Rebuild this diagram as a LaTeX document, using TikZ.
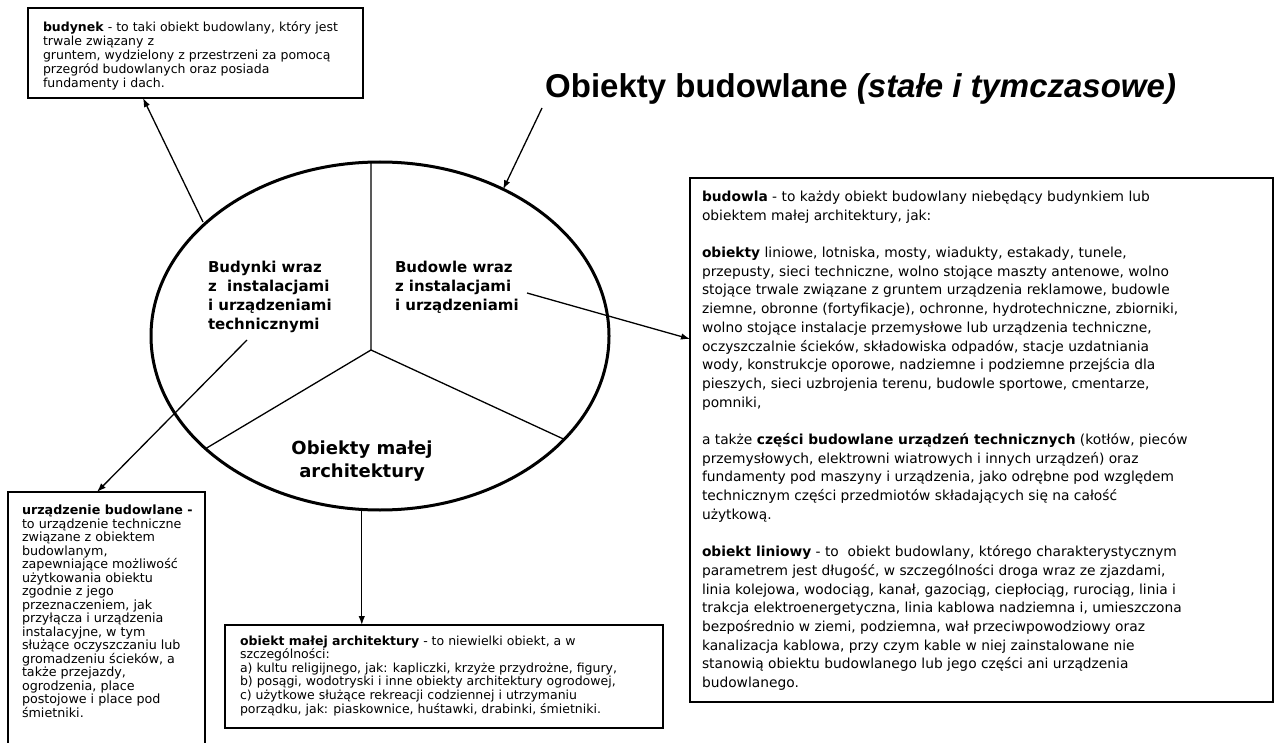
\documentclass[tikz,border=0pt]{standalone}
\usepackage{fontspec}
\setmainfont{DejaVu Sans}
\newfontfamily\titlefont{Liberation Sans}
\usetikzlibrary{shapes.geometric,arrows.meta,calc}
\begin{document}
\begin{tikzpicture}[x=1pt,y=-1pt,
  boxline/.style={line width=1.4pt},
  frame/.style={draw, boxline, rectangle, inner sep=0pt, outer sep=0pt, anchor=north west},
  txt/.style={inner sep=0pt, outer sep=0pt, anchor=north west, align=left},
  lbl/.style={inner sep=0pt, outer sep=0pt, anchor=north west, align=left, font=\bfseries\fontsize{15}{19}\selectfont},
  divider/.style={line width=1.3pt},
  arr/.style={line width=1.3pt, -{Latex[length=9pt,width=6.5pt]}}]
\useasboundingbox (0,0) rectangle (1279,743);
\fill[white] (0,0) rectangle (1279,743);

% title
\node[anchor=base west, inner sep=0pt, font=\titlefont\bfseries\fontsize{33}{39}\selectfont] (title) at (545,98) {Obiekty budowlane \textit{(stałe i tymczasowe)}};

% ellipse and divisions
\node[draw, ellipse, line width=3pt, minimum width=458pt, minimum height=348pt, inner sep=0pt, outer sep=0pt] (ell) at (380,336) {};
\coordinate (pc) at (371,350);
\coordinate (ptop) at (371,162.5);
\coordinate (pleft) at (205,449);
\coordinate (pright) at (564.5,439.5);
\draw[divider] (ptop) -- (pc) -- (pleft);
\draw[divider] (pc) -- (pright);

\node[lbl] (lab1) at (208,261) {Budynki wraz\\z\ \ instalacjami\\i urządzeniami\\technicznymi};
\node[lbl] (lab2) at (395,261) {Budowle wraz\\z instalacjami\\i urządzeniami};
\node[inner sep=0pt, anchor=north, align=center, font=\bfseries\fontsize{18}{23}\selectfont] (lab3) at (362,441) {Obiekty małej\\architektury};

% top-left box
\node[frame, minimum width=335pt, minimum height=90pt] (tl) at (28,8) {};
\node[txt, font=\fontsize{12.5}{14}\selectfont] (tlt) at (43,21.5) {\textbf{budynek} - to taki obiekt budowlany, który jest\\trwale związany z\\gruntem, wydzielony z przestrzeni za pomocą\\przegród budowlanych oraz posiada\\fundamenty i dach.};

% right box
\node[frame, minimum width=583pt, minimum height=524pt] (rb) at (690,178) {};
\node[txt, font=\fontsize{13.8}{18.7}\selectfont] (rbt) at (702,191) {\textbf{budowla} - to każdy obiekt budowlany niebędący budynkiem lub\\
obiektem małej architektury, jak:\\[18.7pt]
\textbf{obiekty} liniowe, lotniska, mosty, wiadukty, estakady, tunele,\\
przepusty, sieci techniczne, wolno stojące maszty antenowe, wolno\\
stojące trwale związane z gruntem urządzenia reklamowe, budowle\\
ziemne, obronne (fortyfikacje), ochronne, hydrotechniczne, zbiorniki,\\
wolno stojące instalacje przemysłowe lub urządzenia techniczne,\\
oczyszczalnie ścieków, składowiska odpadów, stacje uzdatniania\\
wody, konstrukcje oporowe, nadziemne i podziemne przejścia dla\\
pieszych, sieci uzbrojenia terenu, budowle sportowe, cmentarze,\\
pomniki,\\[18.7pt]
a także \textbf{części budowlane urządzeń technicznych} (kotłów, pieców\\
przemysłowych, elektrowni wiatrowych i innych urządzeń) oraz\\
fundamenty pod maszyny i urządzenia, jako odrębne pod względem\\
technicznym części przedmiotów składających się na całość\\
użytkową.\\[18.7pt]
\textbf{obiekt liniowy} - to\ \ obiekt budowlany, którego charakterystycznym\\
parametrem jest długość, w szczególności droga wraz ze zjazdami,\\
linia kolejowa, wodociąg, kanał, gazociąg, ciepłociąg, rurociąg, linia i\\
trakcja elektroenergetyczna, linia kablowa nadziemna i, umieszczona\\
bezpośrednio w ziemi, podziemna, wał przeciwpowodziowy oraz\\
kanalizacja kablowa, przy czym kable w niej zainstalowane nie\\
stanowią obiektu budowlanego lub jego części ani urządzenia\\
budowlanego.};

% bottom-left box (open at the bottom edge of the picture)
\node[rectangle, inner sep=0pt, outer sep=0pt, anchor=north west, minimum width=197pt, minimum height=251pt] (bl) at (8,492) {};
\draw[boxline] (bl.south west) -- (bl.north west) -- (bl.north east) -- (bl.south east);
\node[txt, font=\fontsize{12.7}{13.5}\selectfont] (blt) at (22,505) {\textbf{urządzenie budowlane -}\\to urządzenie techniczne\\związane z obiektem\\budowlanym,\\zapewniające możliwość\\użytkowania obiektu\\zgodnie z jego\\przeznaczeniem, jak\\przyłącza i urządzenia\\instalacyjne, w tym\\służące oczyszczaniu lub\\gromadzeniu ścieków, a\\także przejazdy,\\ogrodzenia, place\\postojowe i place pod\\śmietniki.};

% bottom-centre box
\node[frame, minimum width=438pt, minimum height=103pt] (bc) at (225,625) {};
\node[txt, font=\fontsize{12.5}{13.6}\selectfont] (bct) at (240,635.5) {\textbf{obiekt małej architektury} - to niewielki obiekt, a w\\szczególności:\\a) kultu religijnego, jak: kapliczki, krzyże przydrożne, figury,\\b) posągi, wodotryski i inne obiekty architektury ogrodowej,\\c) użytkowe służące rekreacji codziennej i utrzymaniu\\porządku, jak: piaskownice, huśtawki, drabinki, śmietniki.};

% connectors
\coordinate (a1s) at (203,222);
\draw[arr] (a1s) -- ($(tl.south west)+(115,0)$);
\draw[arr] ($(title.base west)+(-3,10)$) -- (ell.50);
\coordinate (a3s) at (527,293);
\draw[arr] (a3s) -- ($(rb.north west)+(0,161)$);
\coordinate (a4s) at (247,340);
\draw[arr] (a4s) -- ($(bl.north west)+(89,0)$);
\draw[arr] (ell.-96) -- (ell.-96 |- bc.north);
\end{tikzpicture}
\end{document}
